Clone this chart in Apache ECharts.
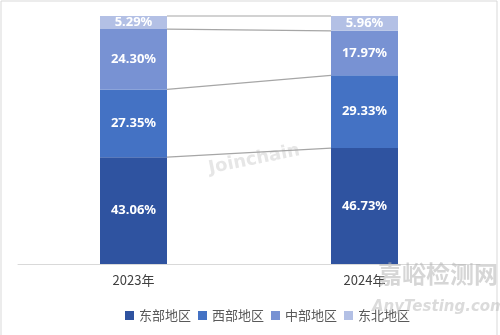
<!DOCTYPE html>
<html><head><meta charset="utf-8">
<script src="https://cdn.jsdelivr.net/npm/echarts@6/dist/echarts.min.js"></script>
<style>html,body{margin:0;padding:0;background:#fff}#c{width:500px;height:335px}</style>
</head><body><div id="c"></div>
<script>
var years = ['2023年', '2024年'];
var regions = ['东部地区', '西部地区', '中部地区', '东北地区'];
var east = [43.06, 46.73];
var west = [27.35, 29.33];
var central = [24.30, 17.97];
var northeast = [5.29, 5.96];
var colors = ['#2F53A0', '#4472C4', '#7892D3', '#B3C0E5'];
var seriesValues = [east, west, central, northeast];
var BAR_W = 67;

function cum(yearIdx, k) {
  var s = 0;
  for (var i = 0; i <= k; i++) s += seriesValues[i][yearIdx];
  return s;
}

var series = regions.map(function (name, i) {
  return {
    name: name, type: 'bar', stack: 'total', barWidth: BAR_W,
    data: seriesValues[i],
    itemStyle: { color: colors[i] },
    label: {
      show: true, position: 'inside', color: '#fff', fontSize: 13, fontWeight: 'bold',
      fontFamily: 'Noto Sans',
      formatter: function (p) { return p.value.toFixed(2) + '%'; }
    },
    z: 3
  };
});

series.push({
  type: 'custom', name: 'connectors', silent: true, z: 2,
  data: regions.map(function (r, k) { return [k]; }),
  renderItem: function (params, api) {
    var k = api.value(0);
    var p1 = api.coord([0, cum(0, k)]);
    var p2 = api.coord([1, cum(1, k)]);
    return {
      type: 'line',
      shape: { x1: p1[0] + BAR_W / 2, y1: p1[1], x2: p2[0] - BAR_W / 2, y2: p2[1] },
      style: { stroke: '#A6A6A6', lineWidth: 1.2 }
    };
  }
});

var chart = echarts.init(document.getElementById('c'));
chart.setOption({
  animation: false,
  grid: { left: 18, right: 20, top: 16, bottom: 71 },
  xAxis: {
    type: 'category', data: years,
    axisLine: { lineStyle: { color: '#D9D9D9', width: 1 } },
    axisTick: { show: false },
    axisLabel: { color: '#404040', fontSize: 13, margin: 10, fontFamily: 'Noto Sans CJK SC' }
  },
  yAxis: { type: 'value', min: 0, max: 100, show: false, splitLine: { show: false } },
  legend: {
    data: regions, bottom: 8, left: 120, itemWidth: 9, itemHeight: 9, itemGap: 7,
    icon: 'rect',
    textStyle: { color: '#595959', fontSize: 13, fontFamily: 'Noto Sans CJK SC' }
  },
  series: series,
  graphic: [
    { type: 'rect', shape: { x: 1, y: 1, width: 496, height: 340 }, style: { fill: 'none', stroke: '#D9D9D9', lineWidth: 1 }, silent: true },
    { type: 'text', x: 207, y: 160, rotation: 0.2, style: { text: 'Joinchain', fill: 'rgba(205,205,205,0.5)', font: 'bold 18px "DejaVu Sans"' }, silent: true, z: 1 },
    { type: 'text', x: 378, y: 262, style: { text: '嘉峪检测网', fill: 'rgba(180,180,180,0.55)', font: 'bold 24px "Noto Sans CJK SC"' }, silent: true, z: 10 },
    { type: 'text', x: 372, y: 300, style: { text: 'AnyTesting.com', fill: 'rgba(190,190,190,0.55)', font: 'italic bold 15px "DejaVu Sans"' }, silent: true, z: 10 }
  ]
});
</script></body></html>
